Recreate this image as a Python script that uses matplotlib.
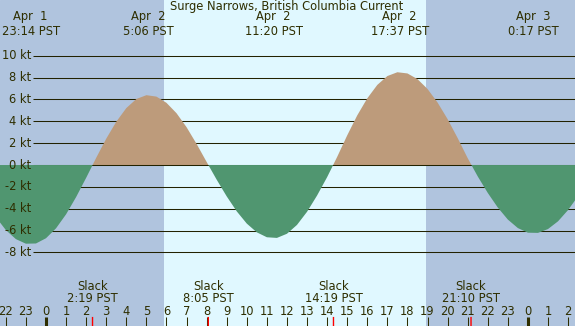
import numpy as np
import matplotlib
matplotlib.use('Agg')
import matplotlib.pyplot as plt

# Surge Narrows current, hours counted from Apr 2 00:00 PST, half-hour steps
hours = np.arange(-2.5, 26.51, 0.5)
knots = [-4.76, -5.95, -6.78, -7.2, -7.18, -6.7, -5.79, -4.51, -2.93, -1.17, 0.66, 2.41,
         3.96, 5.21, 6.04, 6.39, 6.26, 5.69, 4.74, 3.46, 1.93, 0.28, -1.34, -2.87, -4.24,
         -5.36, -6.16, -6.61, -6.67, -6.29, -5.48, -4.28, -2.79, -1.11, 0.74, 2.71, 4.54,
         6.1, 7.33, 8.14, 8.49, 8.38, 7.86, 6.96, 5.72, 4.2, 2.47, 0.63, -1.04, -2.55,
         -3.89, -4.99, -5.77, -6.19, -6.21, -5.86, -5.15, -4.12, -2.84]

# max / min current events
peak_t = [-0.767, 5.1, 11.333, 17.617, 24.283]
peak_day = ['Apr  1', 'Apr  2', 'Apr  2', 'Apr  2', 'Apr  3']
peak_lbl = ['23:14 PST', '5:06 PST', '11:20 PST', '17:37 PST', '0:17 PST']

# slack water
slack_t = [2.317, 8.083, 14.317, 21.167]
slack_lbl = ['2:19 PST', '8:05 PST', '14:19 PST', '21:10 PST']

# daylight
sunrise, sunset = 5.876, 18.92

yticks = [10, 8, 6, 4, 2, 0, -2, -4, -6, -8]
hour_ticks = list(range(-2, 28))

night = '#b0c4de'
day = '#e0f8ff'
ebb = '#bd9b7b'
flood = '#509670'
ink = '#2e2e00'
fs = 8.3

fig = plt.figure(figsize=(5.75, 3.26), dpi=100)
ax = fig.add_axes([0, 0, 1, 1])
ax.set_xlim(-2.291, 26.345)
ax.set_ylim(-14.73, 15.10)
ax.axis('off')
ax.add_patch(plt.Rectangle((0, 0), 1, 1, transform=ax.transAxes, color=night, zorder=0))
ax.axvspan(sunrise, sunset, color=day, zorder=0.5, lw=0)

# grid lines
for v in yticks:
    ax.hlines(v, -0.647, 26.345, color='#222200', lw=0.75, zorder=1 if v != 0 else 2.5,
              snap=True)
    ax.text(-0.75, v, '%d kt' % v, ha='right', va='center', fontsize=fs, color=ink, zorder=5)

ax.fill_between(hours, knots, 0, where=np.array(knots) >= 0, interpolate=True,
                color=ebb, lw=0, zorder=2)
ax.fill_between(hours, knots, 0, where=np.array(knots) <= 0, interpolate=True,
                color=flood, lw=0, zorder=3)

# labels on top
ax.text(12.0, 14.52, 'Surge Narrows, British Columbia Current', ha='center', va='center',
        fontsize=fs, color=ink, zorder=5)
for t, d, l in zip(peak_t, peak_day, peak_lbl):
    ax.text(t, 13.62, d, ha='center', va='center', fontsize=fs, color=ink, zorder=5)
    ax.text(t, 12.25, l, ha='center', va='center', fontsize=fs, color=ink, zorder=5)

# slack labels
for t, l in zip(slack_t, slack_lbl):
    ax.text(t, -11.14, 'Slack', ha='center', va='center', fontsize=fs, color=ink, zorder=5)
    ax.text(t, -12.24, l, ha='center', va='center', fontsize=fs, color=ink, zorder=5)

# hour axis
for h in hour_ticks:
    ax.text(h, -13.40, str(h % 24), ha='center', va='center', fontsize=fs, color=ink, zorder=5)
    ax.vlines(h, -14.73, -13.9, color=ink, lw=2.2 if h % 24 == 0 else 0.75, zorder=4,
              snap=True)
for t in slack_t:
    ax.vlines(t, -14.73, -13.9, color='red', lw=1.0, zorder=4.5, snap=False)

fig.savefig('out.png')
